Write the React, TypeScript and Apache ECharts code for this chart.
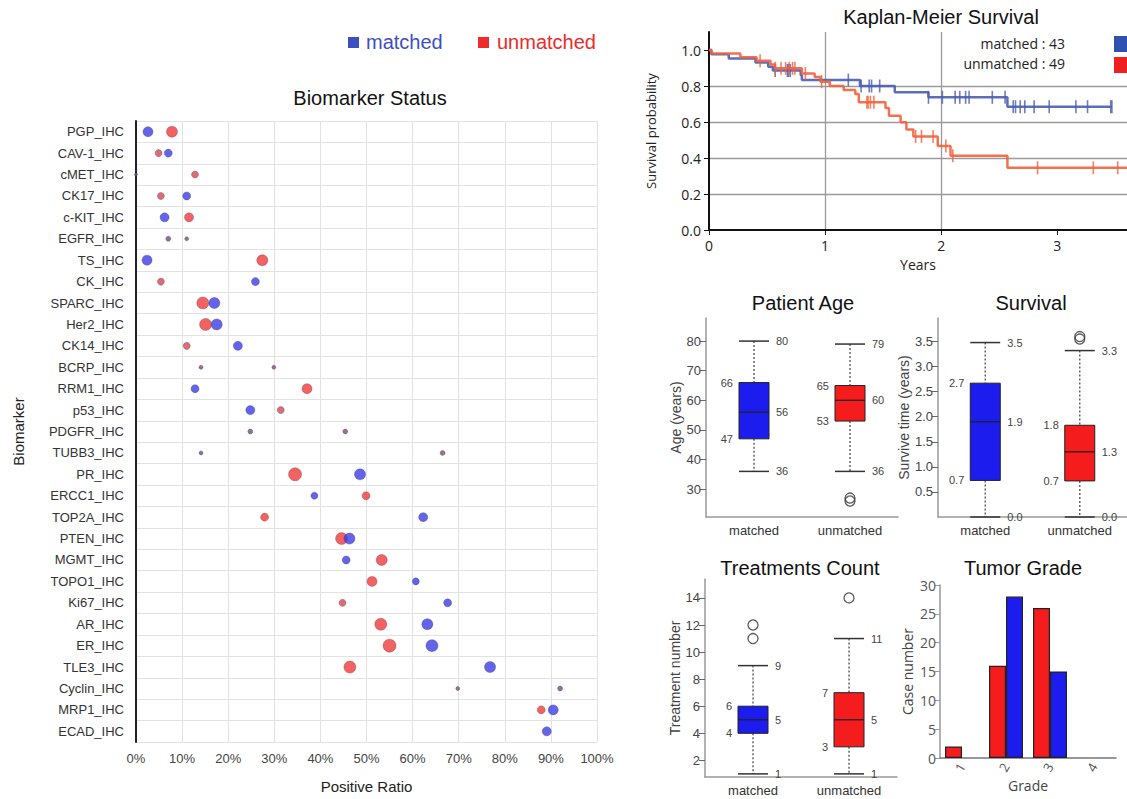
import React, { useEffect, useRef } from 'react';
import * as echarts from 'echarts';

// ---------- Biomarker dot plot ----------
const biomarkers = ['PGP_IHC', 'CAV-1_IHC', 'cMET_IHC', 'CK17_IHC', 'c-KIT_IHC', 'EGFR_IHC', 'TS_IHC', 'CK_IHC', 'SPARC_IHC', 'Her2_IHC', 'CK14_IHC', 'BCRP_IHC', 'RRM1_IHC', 'p53_IHC', 'PDGFR_IHC', 'TUBB3_IHC', 'PR_IHC', 'ERCC1_IHC', 'TOP2A_IHC', 'PTEN_IHC', 'MGMT_IHC', 'TOPO1_IHC', 'Ki67_IHC', 'AR_IHC', 'ER_IHC', 'TLE3_IHC', 'Cyclin_IHC', 'MRP1_IHC', 'ECAD_IHC'];
const matchedRatio = [2.6, 7.0, 0, 11.0, 6.2, 7.0, 2.4, 25.9, 17.0, 17.5, 22.1, 14.1, 12.8, 24.8, 24.8, 14.1, 48.6, 38.7, 62.3, 46.3, 45.6, 60.7, 67.6, 63.2, 64.2, 76.8, 92.0, 90.5, 89.1];
const matchedSize = [10, 8, 3, 8, 9, 5, 10, 8, 11, 11, 9, 4, 8, 9, 5, 4, 11, 7, 9, 11, 8, 7, 8, 11, 12, 11, 5, 10, 9];
const unmatchedRatio = [7.8, 4.9, 12.8, 5.4, 11.5, 11.0, 27.4, 5.4, 14.5, 15.1, 11.0, 29.9, 37.1, 31.4, 45.4, 66.5, 34.5, 49.9, 27.9, 44.6, 53.3, 51.2, 44.8, 53.1, 55.0, 46.4, 69.8, 87.9, null];
const unmatchedSize = [11, 7, 7, 7, 9, 4, 11, 7, 12, 12, 7, 4, 10, 7, 5, 5, 13, 8, 8, 12, 11, 10, 7, 12, 13, 12, 4, 8, 0];

// ---------- Kaplan-Meier ----------
const kmMatchedSteps = [[0, 1], [0.02, 0.977], [0.17, 0.953], [0.40, 0.93], [0.51, 0.907], [0.55, 0.886], [0.79, 0.86], [0.80, 0.833], [1.30, 0.80], [1.60, 0.765], [1.89, 0.737], [2.57, 0.685], [3.47, 0.685]];
const kmMatchedCensor = [0.57, 0.675, 0.685, 0.70, 1.20, 1.31, 1.38, 1.40, 1.47, 1.89, 2.01, 2.12, 2.16, 2.21, 2.24, 2.44, 2.55, 2.62, 2.64, 2.68, 2.72, 2.80, 2.93, 3.16, 3.26, 3.46, 3.47];
const kmUnmatchedSteps = [[0, 1], [0.02, 0.98], [0.27, 0.96], [0.41, 0.94], [0.53, 0.92], [0.57, 0.898], [0.80, 0.87], [0.91, 0.85], [0.96, 0.824], [1.04, 0.80], [1.16, 0.778], [1.26, 0.755], [1.29, 0.71], [1.52, 0.678], [1.55, 0.635], [1.65, 0.598], [1.70, 0.559], [1.76, 0.52], [1.97, 0.467], [2.08, 0.413], [2.57, 0.346], [3.6, 0.346]];
const kmUnmatchedCensor = [0.44, 0.57, 0.62, 0.66, 0.69, 0.72, 0.74, 0.83, 0.97, 1.36, 1.37, 1.39, 1.42, 1.78, 1.83, 1.93, 2.04, 2.10, 2.83, 3.31, 3.52];
const kmYTicks = [0, 0.2, 0.4, 0.6, 0.8, 1.0];
const kmXTicks = [0, 1, 2, 3];

// ---------- Box plots: [low, q1, median, q3, high] ----------
const groups = ['matched', 'unmatched'];
const ageBox = [[36, 47, 56, 66, 80], [36, 53, 60, 65, 79]];
const ageOutliers = [[1, 26], [1, 27]];
const ageTicks = [30, 40, 50, 60, 70, 80];
const survivalBox = [[0.0, 0.73, 1.9, 2.67, 3.48], [0.0, 0.72, 1.3, 1.83, 3.32]];
const survivalOutliers = [[1, 3.55], [1, 3.6]];
const survivalTicks = [0.5, 1.0, 1.5, 2.0, 2.5, 3.0, 3.5];
const treatBox = [[1, 4, 5, 6, 9], [1, 3, 5, 7, 11]];
const treatOutliers = [[0, 11], [0, 12], [1, 14]];
const treatTicks = [2, 4, 6, 8, 10, 12, 14];

// ---------- Tumor grade ----------
const grades = ['1', '2', '3', '4'];
const gradeUnmatched = [2, 16, 26, null];
const gradeMatched = [null, 28, 15, null];

const BLUE = '#1c1cee';
const RED = '#f41c1c';
const ARIAL = '"Liberation Sans", Arial, sans-serif';
const SANS = '"Open Sans", "Noto Sans", sans-serif';

function survAt(steps: number[][], t: number) {
  let s = 1;
  for (const [time, v] of steps) if (time <= t) s = v;
  return s;
}

function boxRenderer(digits: number) {
  return (params: any, api: any) => {
    const idx = api.value(0);
    const lo = api.coord([idx, api.value(1)]);
    const q1 = api.coord([idx, api.value(2)]);
    const md = api.coord([idx, api.value(3)]);
    const q3 = api.coord([idx, api.value(4)]);
    const hi = api.coord([idx, api.value(5)]);
    const cx = lo[0];
    const hw = 15;
    const fill = idx === 0 ? BLUE : RED;
    const fmt = (v: number) => v.toFixed(digits);
    const lbl = (x: number, y: number, v: number, align: string) => ({
      type: 'text', x, y,
      style: { text: fmt(v), fill: '#444', fontSize: 11, fontFamily: ARIAL, align, verticalAlign: 'middle' },
    });
    const dash = { stroke: '#666', lineWidth: 1.5, lineDash: [2, 2] };
    const cap = { stroke: '#333', lineWidth: 1.5 };
    return {
      type: 'group',
      children: [
        { type: 'line', shape: { x1: cx, y1: hi[1], x2: cx, y2: q3[1] }, style: dash },
        { type: 'line', shape: { x1: cx, y1: q1[1], x2: cx, y2: lo[1] }, style: dash },
        { type: 'line', shape: { x1: cx - hw, y1: hi[1], x2: cx + hw, y2: hi[1] }, style: cap },
        { type: 'line', shape: { x1: cx - hw, y1: lo[1], x2: cx + hw, y2: lo[1] }, style: cap },
        { type: 'rect', shape: { x: cx - hw, y: q3[1], width: hw * 2, height: q1[1] - q3[1] }, style: { fill, stroke: '#222', lineWidth: 1 } },
        { type: 'line', shape: { x1: cx - hw, y1: md[1], x2: cx + hw, y2: md[1] }, style: { stroke: '#222', lineWidth: 1.3 } },
        lbl(cx + hw + 7, hi[1], api.value(5), 'left'),
        lbl(cx - hw - 6, q3[1], api.value(4), 'right'),
        lbl(cx + hw + 7, md[1], api.value(3), 'left'),
        lbl(cx - hw - 6, q1[1], api.value(2), 'right'),
        lbl(cx + hw + 7, lo[1], api.value(1), 'left'),
      ],
    };
  };
}

function boxAxes(gridIndex: number, min: number, max: number, ticks: number[], name: string, gap: number, fmt: (v: number) => string) {
  const x = {
    type: 'category', gridIndex, data: groups,
    axisLine: { lineStyle: { color: '#999', width: 1.5 } },
    axisTick: { alignWithLabel: true, length: 5, lineStyle: { color: '#666' } },
    axisLabel: { color: '#333', fontSize: 13, fontFamily: ARIAL, margin: 7 },
  };
  const y = {
    type: 'value', gridIndex, min, max,
    name, nameLocation: 'middle', nameGap: gap,
    nameTextStyle: { color: '#444', fontSize: 14, fontFamily: ARIAL },
    axisLine: { show: true, lineStyle: { color: '#999', width: 1.5 } },
    axisTick: { show: true, length: 6, customValues: ticks, lineStyle: { color: '#666' } },
    axisLabel: { color: '#444', fontSize: 13, fontFamily: ARIAL, margin: 5, customValues: ticks, formatter: fmt },
    splitLine: { show: false },
  };
  return { x, y };
}

function boxSeries(axisIndex: number, data: number[][], outliers: number[][], digits: number) {
  return [
    {
      type: 'custom', xAxisIndex: axisIndex, yAxisIndex: axisIndex,
      renderItem: boxRenderer(digits),
      data: data.map((d, i) => [i, ...d]),
      encode: { x: 0, y: [1, 2, 3, 4, 5] },
      z: 3,
    },
    {
      type: 'scatter', xAxisIndex: axisIndex, yAxisIndex: axisIndex,
      data: outliers, symbol: 'circle', symbolSize: 10,
      itemStyle: { color: 'rgba(0,0,0,0)', borderColor: '#333', borderWidth: 1.3 },
      z: 4,
    },
  ];
}

export default function App() {
  const ref = useRef<HTMLDivElement>(null);
  useEffect(() => {
    if (!ref.current) return;
    const chart = echarts.init(ref.current, undefined, { renderer: 'svg' });

    const age = boxAxes(2, 20.6, 87.8, ageTicks, 'Age (years)', 23, (v) => String(v));
    const surv = boxAxes(3, 0, 3.97, survivalTicks, 'Survive time (years)', 14, (v) => v.toFixed(1));
    const treat = boxAxes(4, 0.77, 15.4, treatTicks, 'Treatment number', 23, (v) => String(v));

    const dotColor = (base: string, isRed: boolean) => (p: any) => {
      const s = p.value[2];
      if (s <= 5) return '#7b4c7f';
      if (isRed && s <= 7) return '#cf4a58';
      return base;
    };

    const option: any = {
      animation: false,
      backgroundColor: '#fff',
      grid: [
        { left: 136, top: 121, width: 461, height: 621 },
        { left: 709, top: 32, width: 418, height: 198 },
        { left: 706, top: 318, width: 192, height: 199 },
        { left: 938, top: 318, width: 193, height: 199 },
        { left: 705, top: 579, width: 192, height: 198 },
        { left: 940, top: 585, width: 176, height: 173 },
      ],
      xAxis: [
        {
          type: 'value', gridIndex: 0, min: 0, max: 100, interval: 10,
          name: 'Positive Ratio', nameLocation: 'middle', nameGap: 37,
          nameTextStyle: { color: '#222', fontSize: 15, fontFamily: ARIAL },
          axisLine: { lineStyle: { color: '#222', width: 2 } },
          axisTick: { length: 5, lineStyle: { color: '#222' } },
          axisLabel: { formatter: '{value}%', color: '#444', fontSize: 13, fontFamily: ARIAL, margin: 10 },
          splitLine: { lineStyle: { color: '#e2e2e2' } },
        },
        {
          type: 'value', gridIndex: 1, min: 0, max: 3.6, interval: 1,
          name: 'Years', nameLocation: 'middle', nameGap: 27,
          nameTextStyle: { color: '#222', fontSize: 14, fontFamily: SANS },
          axisLine: { lineStyle: { color: '#111', width: 2 } },
          axisTick: { length: 5, customValues: kmXTicks, lineStyle: { color: '#111' } },
          axisLabel: { color: '#222', fontSize: 14, fontFamily: SANS, margin: 8, customValues: kmXTicks },
          splitLine: { show: true, showMinLine: false, showMaxLine: false, lineStyle: { color: '#9a9a9a', width: 1.3 } },
        },
        age.x, surv.x, treat.x,
        {
          type: 'category', gridIndex: 5, data: grades,
          name: 'Grade', nameLocation: 'middle', nameGap: 20,
          nameTextStyle: { color: '#444', fontSize: 14, fontFamily: SANS },
          axisLine: { lineStyle: { color: '#777', width: 1.5 } },
          axisTick: { show: false },
          axisLabel: { color: '#555', fontSize: 13, fontFamily: SANS, rotate: 60, margin: 6 },
        },
      ],
      yAxis: [
        {
          type: 'category', gridIndex: 0, data: biomarkers, inverse: true,
          name: 'Biomarker', nameLocation: 'middle', nameGap: 110,
          nameTextStyle: { color: '#222', fontSize: 15, fontFamily: ARIAL },
          axisLine: { lineStyle: { color: '#222', width: 2 } },
          axisTick: { length: 5, lineStyle: { color: '#222' } },
          axisLabel: { color: '#333', fontSize: 13, fontFamily: ARIAL, margin: 12 },
          splitLine: { show: true, lineStyle: { color: '#e2e2e2' } },
        },
        {
          type: 'value', gridIndex: 1, min: 0, max: 1.1, interval: 0.2,
          name: 'Survival probability', nameLocation: 'middle', nameGap: 52,
          nameTextStyle: { color: '#222', fontSize: 13, fontFamily: SANS },
          axisLine: { show: true, lineStyle: { color: '#111', width: 2 } },
          axisTick: { show: true, length: 5, customValues: kmYTicks, lineStyle: { color: '#111' } },
          axisLabel: { color: '#222', fontSize: 14, fontFamily: SANS, margin: 8, customValues: kmYTicks, formatter: (v: number) => v.toFixed(1) },
          splitLine: { show: true, showMinLine: false, showMaxLine: false, lineStyle: { color: '#9a9a9a', width: 1.3 } },
        },
        age.y, surv.y, treat.y,
        {
          type: 'value', gridIndex: 5, min: 0, max: 30, interval: 5,
          name: 'Case number', nameLocation: 'middle', nameGap: 26,
          nameTextStyle: { color: '#444', fontSize: 14, fontFamily: SANS },
          axisLine: { show: true, lineStyle: { color: '#999', width: 1.5 } },
          axisTick: { show: true, length: 5, lineStyle: { color: '#999' } },
          axisLabel: { color: '#555', fontSize: 14, fontFamily: SANS, margin: 4 },
          splitLine: { show: false },
        },
      ],
      series: [
        {
          name: 'unmatched', type: 'scatter', xAxisIndex: 0, yAxisIndex: 0,
          data: biomarkers.map((b, i) => [unmatchedRatio[i], i, unmatchedSize[i]]).filter((d) => d[0] !== null),
          symbolSize: (v: number[]) => v[2],
          itemStyle: { color: dotColor('#ef3b3b', true), borderColor: 'rgba(120,60,70,0.45)', borderWidth: 1 },
          z: 3,
        },
        {
          name: 'matched', type: 'scatter', xAxisIndex: 0, yAxisIndex: 0,
          data: biomarkers.map((b, i) => [matchedRatio[i], i, matchedSize[i]]).filter((d) => d[0] !== null),
          symbolSize: (v: number[]) => v[2],
          itemStyle: { color: dotColor('#3d3de6', false), borderColor: 'rgba(60,60,120,0.45)', borderWidth: 1 },
          z: 4,
        },
        {
          type: 'line', step: 'end', xAxisIndex: 1, yAxisIndex: 1, data: kmMatchedSteps,
          showSymbol: false, symbol: 'none', lineStyle: { color: '#4a5db3', width: 2.5, opacity: 0.9 }, z: 3,
        },
        {
          type: 'scatter', xAxisIndex: 1, yAxisIndex: 1,
          data: kmMatchedCensor.map((t) => [t, survAt(kmMatchedSteps, t)]),
          symbol: 'rect', symbolSize: [1.6, 13], itemStyle: { color: '#4a5db3' }, z: 3,
        },
        {
          type: 'line', step: 'end', xAxisIndex: 1, yAxisIndex: 1, data: kmUnmatchedSteps,
          showSymbol: false, symbol: 'none', lineStyle: { color: '#f2613e', width: 2.5, opacity: 0.9 }, z: 4,
        },
        {
          type: 'scatter', xAxisIndex: 1, yAxisIndex: 1,
          data: kmUnmatchedCensor.map((t) => [t, survAt(kmUnmatchedSteps, t)]),
          symbol: 'rect', symbolSize: [1.6, 13], itemStyle: { color: '#f2613e' }, z: 4,
        },
        ...boxSeries(2, ageBox, ageOutliers, 0),
        ...boxSeries(3, survivalBox, survivalOutliers, 1),
        ...boxSeries(4, treatBox, treatOutliers, 0),
        {
          type: 'bar', xAxisIndex: 5, yAxisIndex: 5, data: gradeUnmatched, barWidth: 17, barGap: '0%',
          itemStyle: { color: RED, borderColor: '#222', borderWidth: 1.2 },
        },
        {
          type: 'bar', xAxisIndex: 5, yAxisIndex: 5, data: gradeMatched, barWidth: 17, barGap: '0%',
          itemStyle: { color: BLUE, borderColor: '#222', borderWidth: 1.2 },
        },
      ],
      graphic: [
        { type: 'rect', shape: { x: 348, y: 37, width: 11, height: 11 }, style: { fill: '#3e4fbf' } },
        { type: 'text', x: 366, y: 42, style: { text: 'matched', fill: '#3e4fbf', fontSize: 20, fontFamily: ARIAL, align: 'left', verticalAlign: 'middle' } },
        { type: 'rect', shape: { x: 478, y: 37, width: 11, height: 11 }, style: { fill: '#ee2a2a' } },
        { type: 'text', x: 497, y: 42, style: { text: 'unmatched', fill: '#ee2a2a', fontSize: 20, fontFamily: ARIAL, align: 'left', verticalAlign: 'middle' } },
        { type: 'text', x: 370, y: 98, style: { text: 'Biomarker Status', fill: '#111', fontSize: 20, fontFamily: ARIAL, align: 'center', verticalAlign: 'middle' } },
        { type: 'text', x: 941, y: 17, style: { text: 'Kaplan-Meier Survival', fill: '#111', fontSize: 20, fontFamily: ARIAL, align: 'center', verticalAlign: 'middle' } },
        { type: 'text', x: 1065, y: 43, style: { text: 'matched : 43', fill: '#222', fontSize: 14, fontFamily: SANS, align: 'right', verticalAlign: 'middle' } },
        { type: 'text', x: 1065, y: 63, style: { text: 'unmatched : 49', fill: '#222', fontSize: 14, fontFamily: SANS, align: 'right', verticalAlign: 'middle' } },
        { type: 'rect', shape: { x: 1114, y: 36, width: 20, height: 16 }, style: { fill: '#2f51b1' } },
        { type: 'rect', shape: { x: 1114, y: 57, width: 20, height: 16 }, style: { fill: '#ee2020' } },
        { type: 'text', x: 803, y: 303, style: { text: 'Patient Age', fill: '#111', fontSize: 20, fontFamily: ARIAL, align: 'center', verticalAlign: 'middle' } },
        { type: 'text', x: 1031, y: 303, style: { text: 'Survival', fill: '#111', fontSize: 20, fontFamily: ARIAL, align: 'center', verticalAlign: 'middle' } },
        { type: 'text', x: 800, y: 568, style: { text: 'Treatments Count', fill: '#111', fontSize: 20, fontFamily: ARIAL, align: 'center', verticalAlign: 'middle' } },
        { type: 'text', x: 1023, y: 568, style: { text: 'Tumor Grade', fill: '#111', fontSize: 20, fontFamily: ARIAL, align: 'center', verticalAlign: 'middle' } },
      ],
    };
    chart.setOption(option);
    return () => chart.dispose();
  }, []);
  return <div ref={ref} style={{ position: 'absolute', left: 0, top: 0, width: 1127, height: 799 }} />;
}
